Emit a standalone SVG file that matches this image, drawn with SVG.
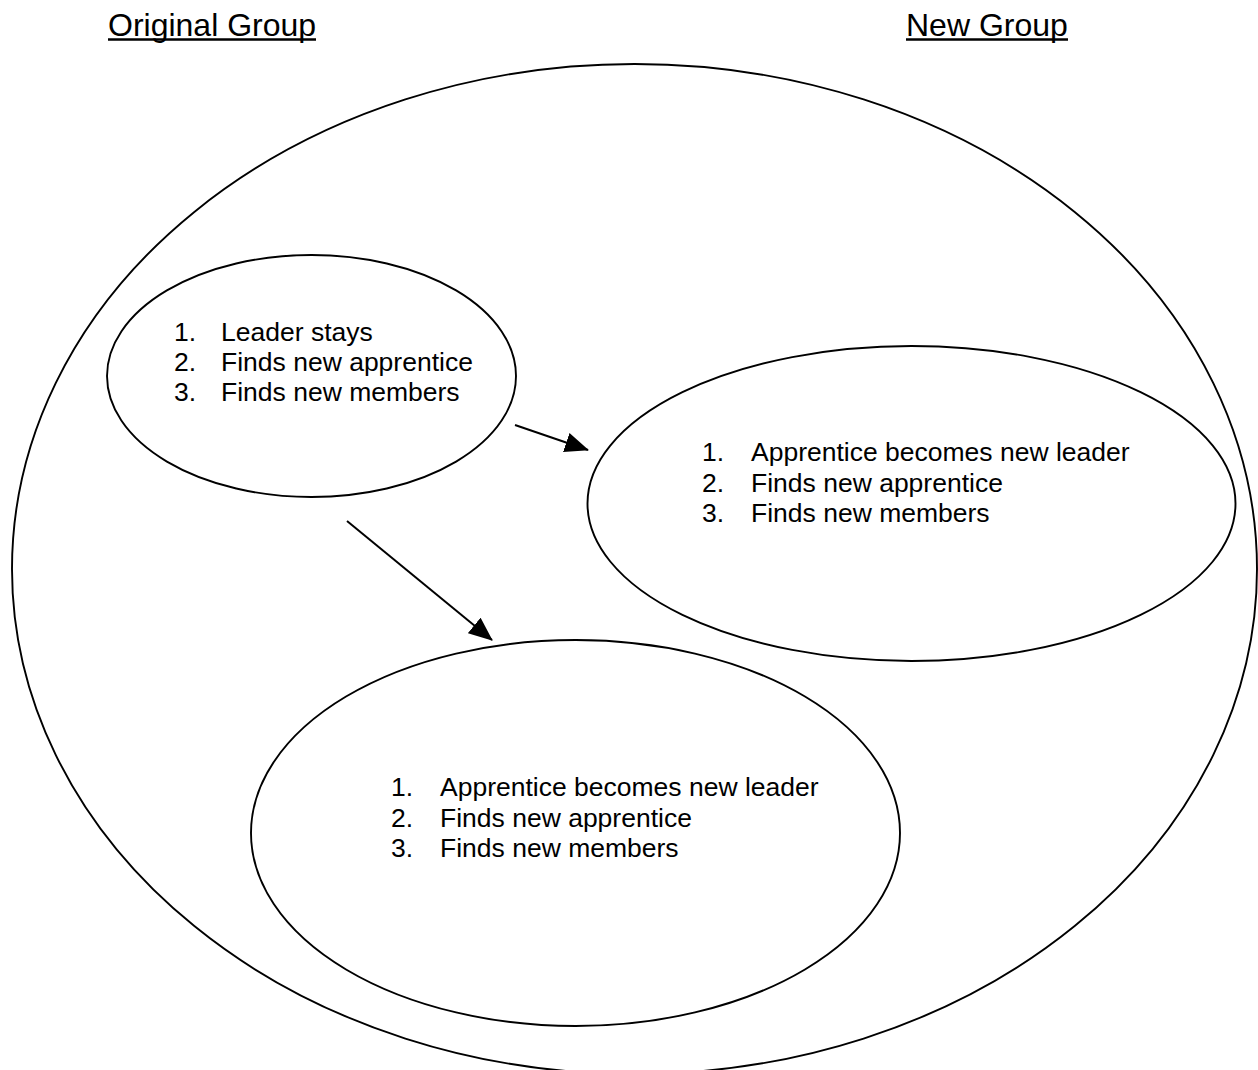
<svg xmlns="http://www.w3.org/2000/svg" width="1258" height="1070" viewBox="0 0 1258 1070">
<style>
.shape{fill:none;stroke:#000;stroke-width:1.9}
.t{font-family:"Liberation Sans",Arial,sans-serif;font-size:26.5px;fill:#000}
.h{font-family:"Liberation Sans",Arial,sans-serif;font-size:32px;fill:#000}
.ul{stroke:#000;stroke-width:2.6}
.conn{stroke:#000;stroke-width:2;fill:none}
</style>
<defs>
<marker id="arr" markerUnits="userSpaceOnUse" markerWidth="24" markerHeight="20" viewBox="0 0 24 20" refX="23" refY="10" orient="auto">
<path d="M0,0 L24,10 L0,20 Z" fill="#000"/>
</marker>
</defs>
<rect width="1258" height="1070" fill="#fff"/>
<g id="title-original">
<text class="h" x="108" y="36">Original Group</text>
<line class="ul" x1="108" y1="39.5" x2="316" y2="39.5"/>
</g>
<g id="title-new">
<text class="h" x="906" y="36">New Group</text>
<line class="ul" x1="906" y1="39.5" x2="1068" y2="39.5"/>
</g>
<g id="outer"><ellipse class="shape" cx="634.5" cy="569" rx="622.5" ry="505"/></g>
<g id="node1">
<ellipse class="shape" cx="311.5" cy="376" rx="204.5" ry="121"/>
<text class="t" x="174" y="341">1.</text><text class="t" x="221" y="341">Leader stays</text>
<text class="t" x="174" y="371">2.</text><text class="t" x="221" y="371">Finds new apprentice</text>
<text class="t" x="174" y="401">3.</text><text class="t" x="221" y="401">Finds new members</text>
</g>
<g id="node2">
<ellipse class="shape" cx="911.5" cy="503.5" rx="324" ry="157.5"/>
<text class="t" x="702" y="461">1.</text><text class="t" x="751" y="461">Apprentice becomes new leader</text>
<text class="t" x="702" y="492">2.</text><text class="t" x="751" y="492">Finds new apprentice</text>
<text class="t" x="702" y="522">3.</text><text class="t" x="751" y="522">Finds new members</text>
</g>
<g id="node3">
<ellipse class="shape" cx="575.5" cy="833" rx="324.5" ry="193"/>
<text class="t" x="391" y="796">1.</text><text class="t" x="440" y="796">Apprentice becomes new leader</text>
<text class="t" x="391" y="827">2.</text><text class="t" x="440" y="827">Finds new apprentice</text>
<text class="t" x="391" y="857">3.</text><text class="t" x="440" y="857">Finds new members</text>
</g>
<g id="connectors">
<line class="conn" x1="515" y1="425" x2="588" y2="450" marker-end="url(#arr)"/>
<line class="conn" x1="347" y1="521" x2="492" y2="640" marker-end="url(#arr)"/>
</g>
</svg>
